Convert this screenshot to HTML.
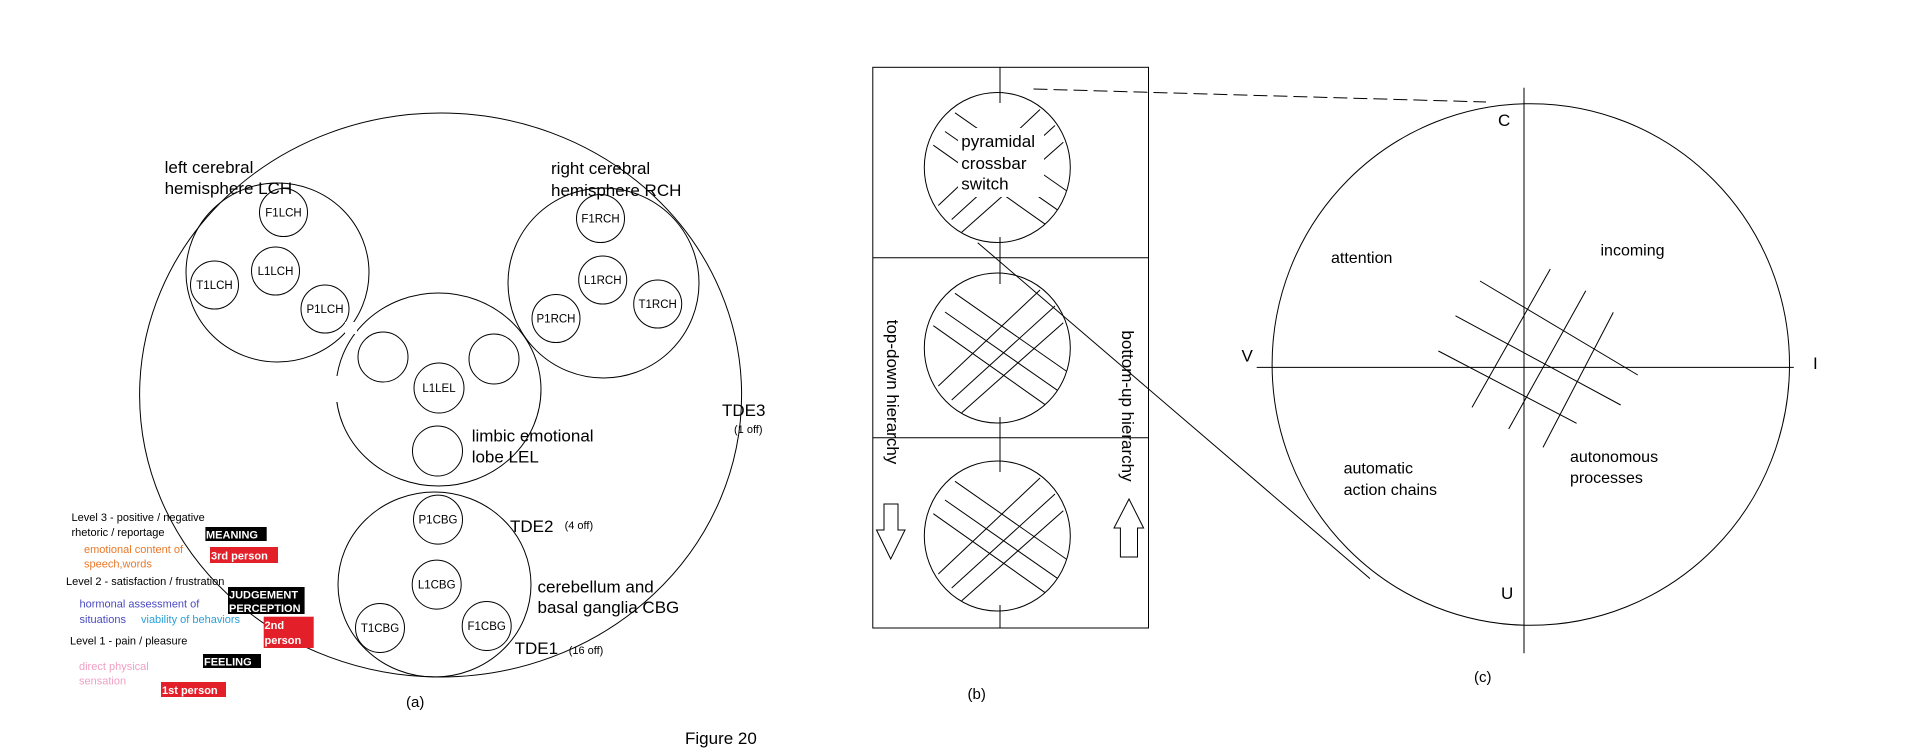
<!DOCTYPE html>
<html><head><meta charset="utf-8"><style>
html,body{margin:0;padding:0;background:#fff;}
svg{display:block;font-family:"Liberation Sans",Arial,sans-serif;}
</style></head><body>
<svg width="1908" height="752" viewBox="0 0 1908 752" xmlns="http://www.w3.org/2000/svg">
<defs>
<clipPath id="cm"><ellipse cx="997" cy="348" rx="73" ry="75"/></clipPath>
<clipPath id="cb"><ellipse cx="997" cy="536" rx="73" ry="75"/></clipPath>
<clipPath id="ct"><ellipse cx="997" cy="167.5" rx="73" ry="75"/></clipPath>
<g id="hatch">
<line x1="955" y1="293.3" x2="1073.3" y2="376"/>
<line x1="945" y1="312" x2="1061.7" y2="393.3"/>
<line x1="933.3" y1="325.7" x2="1051.7" y2="409.3"/>
<line x1="1040" y1="290" x2="938.3" y2="386"/>
<line x1="1055" y1="306" x2="951.7" y2="400"/>
<line x1="1063.3" y1="322.7" x2="961.7" y2="412.7"/>
</g>
</defs>
<rect width="1908" height="752" fill="#fff"/>
<g fill="none" stroke="#000" stroke-width="1">
<!-- panel a -->
<ellipse cx="440.6" cy="395" rx="301" ry="282"/>
<ellipse cx="277.5" cy="272.5" rx="91.5" ry="89.5"/>
<circle cx="283.5" cy="212.5" r="24"/>
<circle cx="275.5" cy="271" r="24"/>
<circle cx="214.5" cy="285" r="24"/>
<circle cx="325" cy="309" r="24"/>
<ellipse cx="603.5" cy="283" rx="95.5" ry="95"/>
<circle cx="600.5" cy="218.5" r="24"/>
<circle cx="602.7" cy="280" r="24"/>
<circle cx="657.7" cy="304" r="24"/>
<circle cx="556" cy="318.5" r="24"/>
<ellipse cx="438.5" cy="389.5" rx="102.5" ry="96.5"/>
<circle cx="383" cy="357" r="25"/>
<circle cx="494" cy="359" r="25"/>
<circle cx="439" cy="388" r="25"/>
<circle cx="437.5" cy="451" r="25"/>
<ellipse cx="434.5" cy="584.5" rx="96.5" ry="92.5"/>
<circle cx="438" cy="519.6" r="24.5"/>
<circle cx="436.7" cy="584.6" r="24.5"/>
<circle cx="380" cy="628" r="24.5"/>
<circle cx="486.7" cy="626" r="24.5"/>
<!-- panel b -->
<rect x="872.8" y="67.3" width="275.7" height="560.7"/>
<line x1="872.8" y1="257.7" x2="1148.5" y2="257.7"/>
<line x1="872.8" y1="437.7" x2="1148.5" y2="437.7"/>
<line x1="1000" y1="67" x2="1000" y2="103"/>
<line x1="1000" y1="237" x2="1000" y2="284"/>
<line x1="1000" y1="417" x2="1000" y2="472"/>
<line x1="1000" y1="605" x2="1000" y2="628"/>
<ellipse cx="997.3" cy="167.5" rx="73" ry="75"/>
<ellipse cx="997.3" cy="348" rx="73" ry="75"/>
<ellipse cx="997.3" cy="536" rx="73" ry="75"/>
<g clip-path="url(#cm)"><use href="#hatch"/></g>
<g clip-path="url(#cb)"><use href="#hatch" transform="translate(0,188)"/></g>
<g clip-path="url(#ct)"><use href="#hatch" transform="translate(0,-180.5)"/></g>
<polygon points="884,504 898,504 898,530 905,530 890.7,559 876.5,530 884,530"/>
<polygon points="1120.4,557 1137.5,557 1137.5,528 1143.6,528 1129,499 1114,528 1120.4,528"/>
<line x1="977.7" y1="242.7" x2="1370" y2="578.6"/>
<line x1="1033.5" y1="89" x2="1486" y2="102" stroke-dasharray="14 6"/>
<!-- panel c -->
<ellipse cx="1530.8" cy="364.5" rx="258.7" ry="260.8"/>
<line x1="1524" y1="87.8" x2="1524" y2="653.3"/>
<line x1="1256.7" y1="367.4" x2="1793.8" y2="367.4"/>
<line x1="1550.3" y1="269" x2="1472" y2="407.4"/>
<line x1="1585.8" y1="290.7" x2="1508.7" y2="429"/>
<line x1="1613.3" y1="312.4" x2="1543" y2="447.4"/>
<line x1="1480" y1="281" x2="1637.8" y2="375"/>
<line x1="1455.5" y1="315.8" x2="1620.7" y2="405"/>
<line x1="1438.4" y1="351" x2="1576.6" y2="423.3"/>
</g>
<!-- gaps in LEL outline -->
<rect x="332" y="376" width="8" height="26" fill="#fff"/>
<rect x="345" y="322" width="12" height="12" fill="#fff"/>
<!-- erase inner part of top hatch -->
<rect x="958" y="128" width="86" height="69" fill="#fff"/>
<g font-size="17" fill="#000">
<text x="164.6" y="173">left cerebral</text>
<text x="164.6" y="194">hemisphere LCH</text>
<text x="551" y="174">right cerebral</text>
<text x="551" y="196">hemisphere RCH</text>
<text x="471.7" y="441.7">limbic emotional</text>
<text x="471.7" y="462.5">lobe LEL</text>
<text x="722" y="416">TDE3</text>
<text x="510" y="532">TDE2</text>
<text x="537.5" y="592.5">cerebellum and</text>
<text x="537.5" y="613">basal ganglia CBG</text>
<text x="514.6" y="654">TDE1</text>
<text x="685" y="744">Figure 20</text>
<text x="961.3" y="147">pyramidal</text>
<text x="961.3" y="169">crossbar</text>
<text x="961.3" y="189.5">switch</text>
<text transform="translate(887,392) rotate(90)" text-anchor="middle">top-down hierarchy</text>
<text transform="translate(1122,406) rotate(90)" text-anchor="middle">bottom-up hierarchy</text>
<text x="1498" y="126">C</text>
<text x="1241.5" y="361.6">V</text>
<text x="1813" y="369">I</text>
<text x="1501" y="599">U</text>
<text x="1331" y="263" font-size="16">attention</text>
<text x="1600.5" y="255.5" font-size="16">incoming</text>
<text x="1343.6" y="473.5" font-size="16">automatic</text>
<text x="1343.6" y="495" font-size="16">action chains</text>
<text x="1570" y="462" font-size="16">autonomous</text>
<text x="1570" y="483" font-size="16">processes</text>
</g>
<g font-size="15" fill="#000">
<text x="406" y="707">(a)</text>
<text x="967.5" y="699">(b)</text>
<text x="1474" y="682">(c)</text>
</g>
<g font-size="11" fill="#000">
<text x="734" y="433">(1 off)</text>
<text x="564.6" y="529">(4 off)</text>
<text x="568.7" y="654">(16 off)</text>
</g>
<g font-size="11.5" fill="#000" text-anchor="middle">
<text x="283.5" y="216.5">F1LCH</text>
<text x="275.5" y="275">L1LCH</text>
<text x="214.5" y="289">T1LCH</text>
<text x="325" y="313">P1LCH</text>
<text x="600.5" y="222.5">F1RCH</text>
<text x="602.7" y="284">L1RCH</text>
<text x="657.7" y="308">T1RCH</text>
<text x="556" y="322.5">P1RCH</text>
<text x="439" y="392">L1LEL</text>
<text x="438" y="523.6">P1CBG</text>
<text x="436.7" y="588.6">L1CBG</text>
<text x="380" y="632">T1CBG</text>
<text x="486.7" y="630">F1CBG</text>
</g>
<!-- legend -->
<g font-size="11">
<text x="71.5" y="521" fill="#000">Level 3 - positive / negative</text>
<text x="71.5" y="536" fill="#000">rhetoric / reportage</text>
<text x="84" y="553" fill="#e8792a">emotional content of</text>
<text x="84" y="567.5" fill="#e8792a">speech,words</text>
<text x="66" y="585" fill="#000">Level 2 -  satisfaction / frustration</text>
<text x="79.5" y="607.5" fill="#4a4ac0">hormonal assessment of</text>
<text x="79.5" y="623" fill="#4a4ac0">situations</text>
<text x="141" y="623" fill="#2aa0d8">viability of behaviors</text>
<text x="70" y="644.6" fill="#000">Level 1 - pain / pleasure</text>
<text x="79" y="670" fill="#f0a0c4">direct physical</text>
<text x="79" y="684.6" fill="#f0a0c4">sensation</text>
</g>
<rect x="205.4" y="527" width="61.3" height="14" fill="#000"/>
<rect x="210" y="547" width="68" height="16" fill="#e3202a"/>
<rect x="228" y="587" width="76.6" height="27" fill="#000"/>
<rect x="263.7" y="616.7" width="50" height="31.3" fill="#e3202a"/>
<rect x="203" y="654" width="58" height="14" fill="#000"/>
<rect x="161" y="682" width="65" height="15" fill="#e3202a"/>
<g font-size="11" font-weight="bold" fill="#fff">
<text x="206" y="538.5">MEANING</text>
<text x="211" y="559.5">3rd person</text>
<text x="229" y="598.5">JUDGEMENT</text>
<text x="229" y="612">PERCEPTION</text>
<text x="264.5" y="629">2nd</text>
<text x="264.5" y="644">person</text>
<text x="204" y="665.5">FEELING</text>
<text x="162" y="694">1st person</text>
</g>
</svg>
</body></html>
